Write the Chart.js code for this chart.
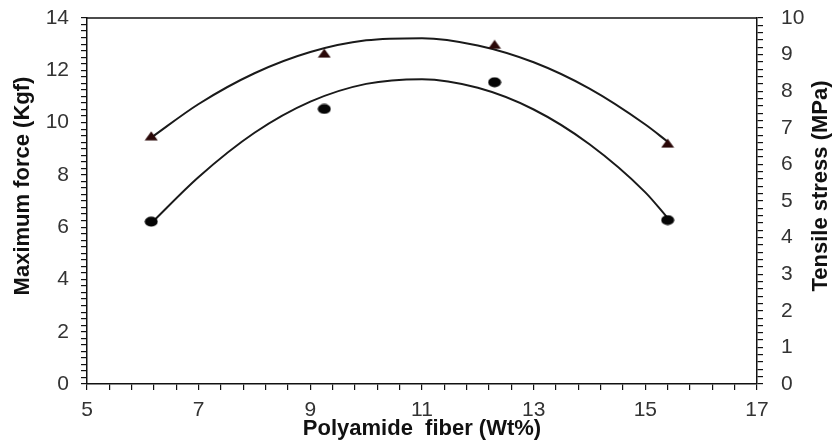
<!DOCTYPE html>
<html><head><meta charset="utf-8">
<script src="https://cdn.jsdelivr.net/npm/chart.js@4/dist/chart.umd.min.js"></script>
<style>html,body{margin:0;padding:0;background:#fff;} #wrap{width:834px;height:445px;}</style>
</head><body><div id="wrap"><canvas id="c" width="834" height="445"></canvas></div>
<script>
// ---- data ----
const fiberWt = [6.15, 9.25, 12.3, 15.4];
const maxForce = [6.21, 10.52, 11.54, 6.27];          // circles, left axis (Kgf)
const tensileStress = [6.78, 9.04, 9.28, 6.58];       // triangles, right axis (MPa)
const fitX = [6.15, 7, 8, 9, 10, 11, 12, 13, 14, 15, 15.4];
const forceFit = [6.15, 7.92, 9.61, 10.80, 11.48, 11.66, 11.33, 10.50, 9.17, 7.33, 6.35];
const stressFit = [6.73, 7.65, 8.49, 9.07, 9.39, 9.45, 9.25, 8.79, 8.07, 7.09, 6.62];
const xTickLabels = [5, 7, 9, 11, 13, 15, 17];
const forceTickLabels = [0, 2, 4, 6, 8, 10, 12, 14];
const stressTickLabels = [0, 1, 2, 3, 4, 5, 6, 7, 8, 9, 10];
const xTitle = 'Polyamide  fiber (Wt%)';
const leftTitle = 'Maximum force (Kgf)';
const rightTitle = 'Tensile stress (MPa)';

const pts = (xs, ys) => xs.map((x, i) => ({x: x, y: ys[i]}));
const labelFor = (list) => (v) => {
  const hit = list.find(t => Math.abs(t - v) < 1e-6);
  return hit === undefined ? '' : String(hit);
};

function ellipseImg(w, h, color) {
  const c = document.createElement('canvas'); c.width = w; c.height = h;
  const g = c.getContext('2d'); g.fillStyle = color; g.beginPath();
  g.ellipse(w / 2, h / 2, w / 2 - 0.5, h / 2 - 0.5, 0, 0, Math.PI * 2); g.fill();
  return c;
}
function triangleImg(w, h, color) {
  const c = document.createElement('canvas'); c.width = w; c.height = h;
  const g = c.getContext('2d'); g.fillStyle = color; g.beginPath();
  g.moveTo(w / 2, 0.5); g.lineTo(w - 0.5, h - 0.5); g.lineTo(0.5, h - 0.5); g.closePath(); g.fill();
  return c;
}

const FONT = "'Liberation Sans', Arial, sans-serif";
const AX = '#111';
const TXT = '#333';

const frame = {
  id: 'frame',
  afterDatasetsDraw(chart) {
    const a = chart.chartArea, ctx = chart.ctx;
    ctx.save(); ctx.strokeStyle = AX; ctx.lineWidth = 1.5;
    ctx.beginPath(); ctx.moveTo(a.left, a.top); ctx.lineTo(a.right, a.top); ctx.stroke();
    // vertical axis titles, both reading bottom-to-top
    ctx.fillStyle = AX; ctx.font = 'bold 22px ' + FONT;
    ctx.textAlign = 'center'; ctx.textBaseline = 'middle';
    const cy = (a.top + a.bottom) / 2 - 15;
    [[23, leftTitle], [chart.width - 13, rightTitle]].forEach(([cx, t]) => {
      ctx.save(); ctx.translate(cx, cy); ctx.rotate(-Math.PI / 2); ctx.fillText(t, 0, 0); ctx.restore();
    });
    ctx.restore();
  }
};

function axisCommon(step, labels) {
  return {
    ticks: { stepSize: step, autoSkip: false, maxTicksLimit: 200, maxRotation: 0,
      callback: labelFor(labels), color: TXT, font: { family: FONT, size: 21 } },
    grid: { drawOnChartArea: false, drawTicks: true, tickLength: 6, color: AX, lineWidth: 1.2 },
    border: { color: AX, width: 1.5 }
  };
}

const xs = axisCommon(0.4, xTickLabels);
const yl = axisCommon(0.25, forceTickLabels);
const yr = axisCommon(0.2, stressTickLabels);

new Chart(document.getElementById('c'), {
  type: 'scatter',
  data: {
    datasets: [
      { label: 'Maximum force', data: pts(fiberWt, maxForce), yAxisID: 'y',
        pointStyle: ellipseImg(14, 11, '#050505'), pointRadius: 6, showLine: false },
      { label: 'Tensile stress', data: pts(fiberWt, tensileStress), yAxisID: 'y1',
        pointStyle: triangleImg(14, 10, '#2a0808'), pointRadius: 6, showLine: false },
      { label: 'Force fit', data: pts(fitX, forceFit), yAxisID: 'y', showLine: true,
        pointRadius: 0, borderColor: '#1a1a1a', borderWidth: 2, cubicInterpolationMode: 'monotone', fill: false },
      { label: 'Stress fit', data: pts(fitX, stressFit), yAxisID: 'y1', showLine: true,
        pointRadius: 0, borderColor: '#1a1a1a', borderWidth: 2, cubicInterpolationMode: 'monotone', fill: false }
    ]
  },
  options: {
    responsive: false, animation: false, devicePixelRatio: 1,
    layout: { padding: { top: 18, left: 0, right: 0, bottom: 0 } },
    plugins: { legend: { display: false }, tooltip: { enabled: false } },
    scales: {
      x: Object.assign({}, xs, { type: 'linear', position: 'bottom', min: 5, max: 17,
        ticks: Object.assign({}, xs.ticks, { padding: 8 }),
        title: { display: true, text: xTitle, color: AX,
          font: { family: FONT, size: 22, weight: 'bold' }, padding: { top: 0, bottom: 3 } },
        afterFit(s) { s.height = 61; s.paddingLeft = 0; s.paddingRight = 0; } }),
      y: Object.assign({}, yl, { type: 'linear', position: 'left', min: 0, max: 14,
        ticks: Object.assign({}, yl.ticks, { padding: 12 }),
        afterFit(s) { s.width = 87; s.paddingTop = 0; s.paddingBottom = 0; } }),
      y1: Object.assign({}, yr, { type: 'linear', position: 'right', min: 0, max: 10,
        ticks: Object.assign({}, yr.ticks, { padding: 18 }),
        afterFit(s) { s.width = 77; s.paddingTop = 0; s.paddingBottom = 0; } })
    }
  },
  plugins: [frame]
});
</script></body></html>
